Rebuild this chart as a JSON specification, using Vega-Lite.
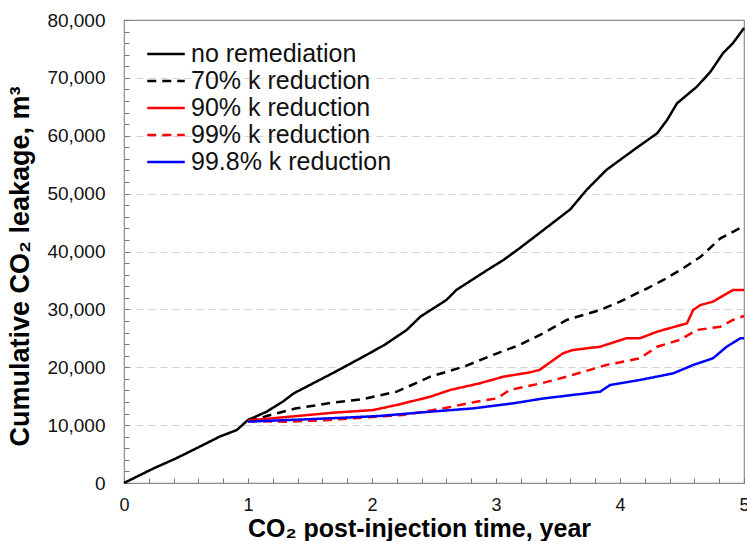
{
  "$schema": "https://vega.github.io/schema/vega-lite/v6.json",
  "width": 620,
  "height": 463,
  "autosize": {"type": "none"},
  "padding": {"left": 124, "top": 20, "right": 3, "bottom": 58},
  "config": {
    "font": "Liberation Sans",
    "view": {"stroke": "#8c8c8c", "strokeWidth": 1.2},
    "legend": {
      "orient": "none",
      "legendX": 28,
      "legendY": 20,
      "title": null,
      "symbolType": "M-1.5,0H1.5",
      "symbolSize": 625,
      "symbolStrokeWidth": 2.5,
      "labelFontSize": 25,
      "labelColor": "#111111",
      "labelFont": "Liberation Sans",
      "rowPadding": 0,
      "labelOffset": 11,
      "labelLimit": 400
    }
  },
  "data": {
    "values": [
      {"s": "no remediation", "t": 0, "v": 0},
      {"s": "no remediation", "t": 0.24, "v": 2540},
      {"s": "no remediation", "t": 0.42, "v": 4260},
      {"s": "no remediation", "t": 0.61, "v": 6270},
      {"s": "no remediation", "t": 0.77, "v": 8000},
      {"s": "no remediation", "t": 0.91, "v": 9160},
      {"s": "no remediation", "t": 1.0, "v": 10890},
      {"s": "no remediation", "t": 1.15, "v": 12320},
      {"s": "no remediation", "t": 1.28, "v": 14050},
      {"s": "no remediation", "t": 1.37, "v": 15500},
      {"s": "no remediation", "t": 1.69, "v": 19060},
      {"s": "no remediation", "t": 1.93, "v": 21830},
      {"s": "no remediation", "t": 2.1, "v": 23850},
      {"s": "no remediation", "t": 2.28, "v": 26440},
      {"s": "no remediation", "t": 2.39, "v": 28740},
      {"s": "no remediation", "t": 2.6, "v": 31620},
      {"s": "no remediation", "t": 2.68, "v": 33350},
      {"s": "no remediation", "t": 2.93, "v": 36800},
      {"s": "no remediation", "t": 3.06, "v": 38530},
      {"s": "no remediation", "t": 3.19, "v": 40560},
      {"s": "no remediation", "t": 3.4, "v": 44000},
      {"s": "no remediation", "t": 3.6, "v": 47300},
      {"s": "no remediation", "t": 3.73, "v": 50630},
      {"s": "no remediation", "t": 3.89, "v": 54090},
      {"s": "no remediation", "t": 4.11, "v": 57540},
      {"s": "no remediation", "t": 4.3, "v": 60430},
      {"s": "no remediation", "t": 4.38, "v": 62730},
      {"s": "no remediation", "t": 4.46, "v": 65610},
      {"s": "no remediation", "t": 4.62, "v": 68480},
      {"s": "no remediation", "t": 4.73, "v": 71070},
      {"s": "no remediation", "t": 4.83, "v": 74250},
      {"s": "no remediation", "t": 4.91, "v": 75980},
      {"s": "no remediation", "t": 5.0, "v": 78600},

      {"s": "70% k reduction", "t": 1.0, "v": 10890},
      {"s": "70% k reduction", "t": 1.1, "v": 11180},
      {"s": "70% k reduction", "t": 1.15, "v": 11580},
      {"s": "70% k reduction", "t": 1.39, "v": 12900},
      {"s": "70% k reduction", "t": 1.69, "v": 13900},
      {"s": "70% k reduction", "t": 1.93, "v": 14510},
      {"s": "70% k reduction", "t": 2.2, "v": 15780},
      {"s": "70% k reduction", "t": 2.47, "v": 18370},
      {"s": "70% k reduction", "t": 2.74, "v": 20100},
      {"s": "70% k reduction", "t": 3.01, "v": 22410},
      {"s": "70% k reduction", "t": 3.19, "v": 23850},
      {"s": "70% k reduction", "t": 3.38, "v": 25870},
      {"s": "70% k reduction", "t": 3.57, "v": 28170},
      {"s": "70% k reduction", "t": 3.84, "v": 29900},
      {"s": "70% k reduction", "t": 4.0, "v": 31330},
      {"s": "70% k reduction", "t": 4.22, "v": 33640},
      {"s": "70% k reduction", "t": 4.35, "v": 35080},
      {"s": "70% k reduction", "t": 4.51, "v": 37100},
      {"s": "70% k reduction", "t": 4.65, "v": 39100},
      {"s": "70% k reduction", "t": 4.81, "v": 42280},
      {"s": "70% k reduction", "t": 5.0, "v": 44400},

      {"s": "90% k reduction", "t": 1.0, "v": 10800},
      {"s": "90% k reduction", "t": 1.69, "v": 12150},
      {"s": "90% k reduction", "t": 2.01, "v": 12610},
      {"s": "90% k reduction", "t": 2.2, "v": 13480},
      {"s": "90% k reduction", "t": 2.47, "v": 14910},
      {"s": "90% k reduction", "t": 2.63, "v": 16070},
      {"s": "90% k reduction", "t": 2.87, "v": 17230},
      {"s": "90% k reduction", "t": 3.06, "v": 18370},
      {"s": "90% k reduction", "t": 3.27, "v": 19100},
      {"s": "90% k reduction", "t": 3.35, "v": 19530},
      {"s": "90% k reduction", "t": 3.54, "v": 22410},
      {"s": "90% k reduction", "t": 3.62, "v": 22980},
      {"s": "90% k reduction", "t": 3.84, "v": 23550},
      {"s": "90% k reduction", "t": 4.05, "v": 25000},
      {"s": "90% k reduction", "t": 4.16, "v": 25000},
      {"s": "90% k reduction", "t": 4.3, "v": 26150},
      {"s": "90% k reduction", "t": 4.54, "v": 27590},
      {"s": "90% k reduction", "t": 4.59, "v": 29900},
      {"s": "90% k reduction", "t": 4.65, "v": 30760},
      {"s": "90% k reduction", "t": 4.75, "v": 31330},
      {"s": "90% k reduction", "t": 4.91, "v": 33350},
      {"s": "90% k reduction", "t": 5.0, "v": 33350},

      {"s": "99% k reduction", "t": 1.0, "v": 10700},
      {"s": "99% k reduction", "t": 1.32, "v": 10600},
      {"s": "99% k reduction", "t": 1.66, "v": 10900},
      {"s": "99% k reduction", "t": 2.25, "v": 11750},
      {"s": "99% k reduction", "t": 2.58, "v": 12900},
      {"s": "99% k reduction", "t": 2.84, "v": 14050},
      {"s": "99% k reduction", "t": 3.01, "v": 14630},
      {"s": "99% k reduction", "t": 3.11, "v": 16070},
      {"s": "99% k reduction", "t": 3.38, "v": 17300},
      {"s": "99% k reduction", "t": 3.57, "v": 18370},
      {"s": "99% k reduction", "t": 3.89, "v": 20390},
      {"s": "99% k reduction", "t": 4.16, "v": 21550},
      {"s": "99% k reduction", "t": 4.3, "v": 23550},
      {"s": "99% k reduction", "t": 4.48, "v": 24710},
      {"s": "99% k reduction", "t": 4.62, "v": 26440},
      {"s": "99% k reduction", "t": 4.81, "v": 27010},
      {"s": "99% k reduction", "t": 4.91, "v": 28170},
      {"s": "99% k reduction", "t": 5.0, "v": 28860},

      {"s": "99.8% k reduction", "t": 1.0, "v": 10600},
      {"s": "99.8% k reduction", "t": 1.69, "v": 11200},
      {"s": "99.8% k reduction", "t": 2.06, "v": 11580},
      {"s": "99.8% k reduction", "t": 2.47, "v": 12320},
      {"s": "99.8% k reduction", "t": 2.82, "v": 12900},
      {"s": "99.8% k reduction", "t": 3.14, "v": 13770},
      {"s": "99.8% k reduction", "t": 3.38, "v": 14600},
      {"s": "99.8% k reduction", "t": 3.84, "v": 15780},
      {"s": "99.8% k reduction", "t": 3.92, "v": 16930},
      {"s": "99.8% k reduction", "t": 4.16, "v": 17800},
      {"s": "99.8% k reduction", "t": 4.43, "v": 18950},
      {"s": "99.8% k reduction", "t": 4.59, "v": 20390},
      {"s": "99.8% k reduction", "t": 4.75, "v": 21550},
      {"s": "99.8% k reduction", "t": 4.86, "v": 23550},
      {"s": "99.8% k reduction", "t": 4.97, "v": 25000},
      {"s": "99.8% k reduction", "t": 5.0, "v": 25000}
    ]
  },
  "mark": {"type": "line", "strokeWidth": 2.5},
  "encoding": {
    "x": {
      "field": "t",
      "type": "quantitative",
      "scale": {"domain": [0, 5], "nice": false},
      "axis": {
        "values": [0, 0.2, 0.4, 0.6, 0.8, 1, 1.2, 1.4, 1.6, 1.8, 2, 2.2, 2.4, 2.6, 2.8, 3, 3.2, 3.4, 3.6, 3.8, 4, 4.2, 4.4, 4.6, 4.8, 5],
        "labelExpr": "datum.value % 1 === 0 ? format(datum.value, 'd') : ''",
        "labelFontSize": 18,
        "labelColor": "#111111",
        "labelPadding": 18,
        "labelFlush": false,
        "labelOverlap": false,
        "domain": false,
        "grid": false,
        "tickSize": -5,
        "tickColor": "#777777",
        "tickWidth": 1,
        "title": "CO₂ post-injection time, year",
        "titleFontSize": 25,
        "titleFontWeight": "bold",
        "titleColor": "#000000",
        "titleX": 295,
        "titleY": 53,
        "titleAlign": "center",
        "titleBaseline": "alphabetic"
      }
    },
    "y": {
      "field": "v",
      "type": "quantitative",
      "scale": {"domain": [0, 80000], "nice": false},
      "axis": {
        "values": [0, 2000, 4000, 6000, 8000, 10000, 12000, 14000, 16000, 18000, 20000, 22000, 24000, 26000, 28000, 30000, 32000, 34000, 36000, 38000, 40000, 42000, 44000, 46000, 48000, 50000, 52000, 54000, 56000, 58000, 60000, 62000, 64000, 66000, 68000, 70000, 72000, 74000, 76000, 78000, 80000],
        "labelExpr": "datum.value % 10000 === 0 ? format(datum.value, ',') : ''",
        "labelFontSize": 19,
        "labelColor": "#111111",
        "labelPadding": 24,
        "labelOverlap": false,
        "domain": false,
        "grid": true,
        "gridDash": [7, 5],
        "gridColor": "#d4d4d4",
        "gridWidth": 1.2,
        "gridOpacity": {"condition": {"test": "datum.value % 10000 === 0 && datum.value > 0 && datum.value < 80000", "value": 1}, "value": 0},
        "tickSize": -5,
        "tickColor": "#777777",
        "tickWidth": 1,
        "title": "Cumulative CO₂ leakage, m³",
        "titleFontSize": 27,
        "titleFontWeight": "bold",
        "titleColor": "#000000",
        "titleX": -104,
        "titleY": 246,
        "titleBaseline": "middle"
      }
    },
    "color": {
      "field": "s",
      "type": "nominal",
      "sort": ["no remediation", "70% k reduction", "90% k reduction", "99% k reduction", "99.8% k reduction"],
      "scale": {
        "domain": ["no remediation", "70% k reduction", "90% k reduction", "99% k reduction", "99.8% k reduction"],
        "range": ["#000000", "#000000", "#ff0000", "#ff0000", "#0000ff"]
      }
    },
    "strokeDash": {
      "field": "s",
      "type": "nominal",
      "sort": ["no remediation", "70% k reduction", "90% k reduction", "99% k reduction", "99.8% k reduction"],
      "scale": {
        "domain": ["no remediation", "70% k reduction", "90% k reduction", "99% k reduction", "99.8% k reduction"],
        "range": [[1, 0], [9, 6], [1, 0], [9, 6], [1, 0]]
      }
    }
  }
}
